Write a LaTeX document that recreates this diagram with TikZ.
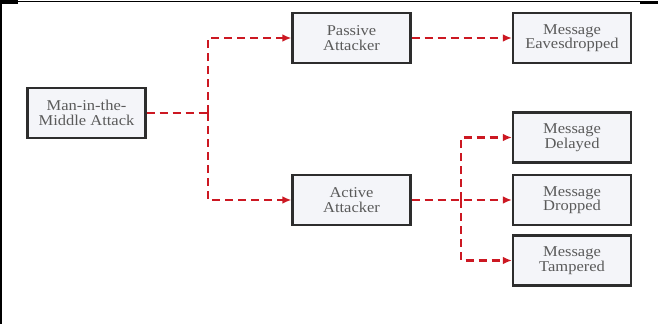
\documentclass[tikz,border=0pt]{standalone}
\usepackage{fontspec}
\setmainfont{Liberation Serif}[FakeStretch=1.1]
\usetikzlibrary{arrows.meta}
\definecolor{linkred}{RGB}{204,24,34}
\definecolor{boxfill}{RGB}{244,245,249}
\definecolor{boxline}{RGB}{45,45,45}
\definecolor{boxtext}{RGB}{90,90,90}
\tikzset{
  stage/.style={draw=boxline, line width=2.1pt, fill=boxfill,
    minimum width=118pt, minimum height=50pt, inner sep=0pt,
    align=center, text=boxtext,
    font=\fontsize{15}{14.5}\selectfont},
  link/.style={draw=linkred, line width=2.8pt, dash pattern=on 8pt off 5pt},
  arrowlink/.style={link, -{Latex[length=9pt,width=7.5pt]}},
  frameline/.style={black, line width=1.2pt}
}
\begin{document}
\begin{tikzpicture}[x=1pt,y=-1pt]
  \useasboundingbox (0,0) rectangle (658,324);
  \fill[white] (0,0) rectangle (658,324);

  % page frame
  \draw[frameline] (0,1.5) -- (658,1.5);
  \draw[black, line width=2pt] (1,0) -- (1,324);
  \fill[black] (0,0) rectangle (18,3.5);
  \fill[black] (640,0.8) rectangle (658,3.5);

  % boxes
  \node[stage] (mitm)     at (86.5,113)  {Man-in-the-\\Middle Attack};
  \node[stage] (passive)  at (351.5,38)  {Passive\\Attacker};
  \node[stage] (active)   at (351.5,200) {Active\\Attacker};
  \node[stage] (eaves)    at (572,38)    {Message\\Eavesdropped};
  \node[stage] (delayed)  at (572,137.5) {Message\\Delayed};
  \node[stage] (dropped)  at (572,200)   {Message\\Dropped};
  \node[stage] (tampered) at (572,260.5) {Message\\Tampered};

  % branch points
  \coordinate (split) at (208,113);
  \coordinate (fork)  at (461,200);

  % connectors
  \draw[link] (mitm.east) -- (split);
  \draw[arrowlink] (split) |- (passive.west);
  \draw[arrowlink] (split) |- (active.west);
  \draw[arrowlink] (passive.east) -- (eaves.west);
  \draw[arrowlink] (active.east) -- (dropped.west);
  \draw[arrowlink] (fork) |- (delayed.west);
  \draw[arrowlink] (fork) |- (tampered.west);
\end{tikzpicture}
\end{document}
